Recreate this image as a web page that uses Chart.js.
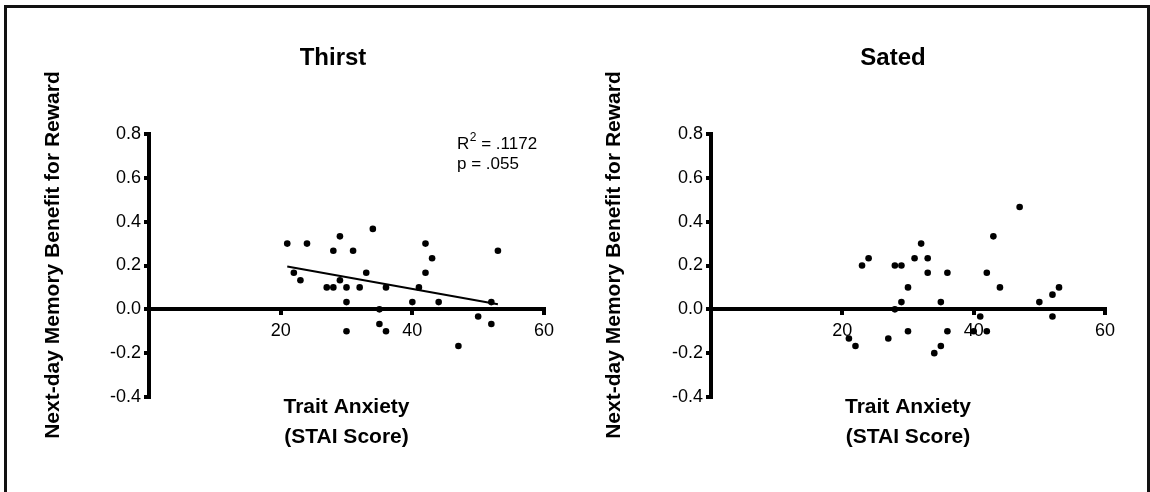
<!DOCTYPE html>
<html>
<head>
<meta charset="utf-8">
<script src="https://cdn.jsdelivr.net/npm/chart.js@4.4.1/dist/chart.umd.min.js"></script>
<style>
  html, body { margin: 0; padding: 0; background: #fff; width: 1150px; height: 492px; overflow: hidden; }
  #frame { position: absolute; left: 4px; top: 5px; width: 1146px; height: 600px; border: 3px solid #111; border-bottom: none; box-sizing: border-box; }
  #thirstChart { position: absolute; left: 0; top: 0; }
  #satedChart { position: absolute; left: 600px; top: 0; }
</style>
</head>
<body>
<div id="frame"></div>
<canvas id="thirstChart" width="666" height="492"></canvas>
<canvas id="satedChart" width="586" height="492"></canvas>
<script>
// axis ticks
var yTicks = [-0.4, -0.2, 0, 0.2, 0.4, 0.6, 0.8];
var yTickLabels = ['-0.4', '-0.2', '0.0', '0.2', '0.4', '0.6', '0.8'];
var xTicks = [0, 20, 40, 60];
var xTickLabels = ['', '20', '40', '60'];

// Thirst: STAI score vs memory benefit
var thirstX = [21, 24, 29, 34, 28, 31, 42, 43, 53, 22, 23, 27, 28, 29, 30, 32, 33, 36, 30, 42, 41, 40, 44, 52, 35, 35, 36, 30, 50, 52, 47];
var thirstY = [0.30, 0.30, 0.333, 0.367, 0.267, 0.267, 0.30, 0.233, 0.267, 0.167, 0.133, 0.10, 0.10, 0.133, 0.10, 0.10, 0.167, 0.10, 0.033, 0.167, 0.10, 0.033, 0.033, 0.033, 0.0, -0.067, -0.10, -0.10, -0.033, -0.067, -0.167];

// regression line for thirst (end points)
var fitX = [21, 53];
var fitY = [0.195, 0.023];
var statR2 = '.1172';
var statP = '.055';

// Sated
var satedX = [47, 43, 32, 23, 24, 28, 29, 31, 33, 33, 36, 42, 30, 44, 53, 52, 50, 29, 35, 28, 41, 52, 30, 36, 42, 40, 21, 22, 27, 35, 34];
var satedY = [0.467, 0.333, 0.30, 0.20, 0.233, 0.20, 0.20, 0.233, 0.233, 0.167, 0.167, 0.167, 0.10, 0.10, 0.10, 0.067, 0.033, 0.033, 0.033, 0.0, -0.033, -0.033, -0.10, -0.10, -0.10, -0.10, -0.133, -0.167, -0.133, -0.167, -0.20];

var yTitle = 'Next-day Memory Benefit for Reward';
var xTitle = ['Trait Anxiety', '(STAI Score)'];

var FONT = "'Liberation Sans', Arial, Helvetica, sans-serif";
Chart.defaults.font.family = FONT;
Chart.defaults.color = '#000';

// panel title, y title and stats text
var panelText = {
    id: 'panelText',
    afterDraw: function(chart, args, opts) {
        var ctx = chart.ctx;
        ctx.save();
        ctx.fillStyle = '#000';
        ctx.textBaseline = 'middle';
        ctx.textAlign = 'center';
        ctx.font = 'bold 24px ' + FONT;
        ctx.fillText(opts.title, opts.titleX, 58);

        // rotated y axis title
        ctx.save();
        ctx.translate(opts.yTitleX, 255);
        ctx.rotate(-Math.PI / 2);
        ctx.font = 'bold 21px ' + FONT;
        ctx.fillText(yTitle, 0, 0);
        ctx.restore();

        if (opts.stats) {
            var x = opts.statsX, y = opts.statsY;
            ctx.textAlign = 'left';
            ctx.font = '17px ' + FONT;
            ctx.fillText('R', x, y);
            var w = ctx.measureText('R').width;
            ctx.font = '12px ' + FONT;
            ctx.fillText('2', x + w + 0.5, y - 6);
            var w2 = ctx.measureText('2').width;
            ctx.font = '17px ' + FONT;
            ctx.fillText(' = ' + statR2, x + w + w2 + 0.5, y);
            ctx.fillText('p = ' + statP, x, y + 20);
        }
        ctx.restore();
    }
};

function makePanel(canvasId, xs, ys, opts) {
    var points = xs.map(function(x, i) { return {x: x, y: ys[i]}; });
    var datasets = [{
        type: 'scatter',
        data: points,
        backgroundColor: '#000',
        borderColor: '#000',
        borderWidth: 0,
        pointRadius: 3.3,
        pointHoverRadius: 3.3,
        clip: false
    }];
    if (opts.fit) {
        datasets.push({
            type: 'line',
            data: fitX.map(function(x, i) { return {x: x, y: fitY[i]}; }),
            borderColor: '#000',
            borderWidth: 2,
            pointRadius: 0,
            fill: false,
            clip: false
        });
    }
    return new Chart(document.getElementById(canvasId), {
        type: 'scatter',
        data: {datasets: datasets},
        options: {
            responsive: false,
            animation: false,
            events: [],
            layout: {padding: {left: opts.padLeft, top: 134, right: opts.padRight, bottom: 95}},
            plugins: {
                legend: {display: false},
                tooltip: {enabled: false},
                panelText: opts.text
            },
            scales: {
                x: {
                    type: 'linear',
                    position: {y: 0},
                    min: 0,
                    max: 60,
                    afterBuildTicks: function(s) { s.ticks = xTicks.map(function(v) { return {value: v}; }); },
                    // title sits this far below the zero line
                    afterFit: function(s) { s.height = 143; },
                    ticks: {
                        callback: function(v, i) { return xTickLabels[i]; },
                        font: {size: 18},
                        color: '#000',
                        padding: 7,
                        maxRotation: 0,
                        autoSkip: false
                    },
                    grid: {drawOnChartArea: false, drawTicks: true, tickLength: 4, lineWidth: 4, color: '#000'},
                    border: {display: true, width: 4, color: '#000'},
                    title: {
                        display: true,
                        text: xTitle,
                        font: {size: 21, weight: 'bold', lineHeight: 1.42},
                        color: '#000',
                        padding: {top: 10, bottom: 0}
                    }
                },
                y: {
                    type: 'linear',
                    position: 'left',
                    min: -0.4,
                    max: 0.8,
                    afterBuildTicks: function(s) { s.ticks = yTicks.map(function(v) { return {value: v}; }); },
                    afterFit: function(s) { s.width = opts.yWidth; },
                    ticks: {
                        callback: function(v, i) { return yTickLabels[i]; },
                        font: {size: 18},
                        color: '#000',
                        padding: 3
                    },
                    grid: {drawOnChartArea: false, drawTicks: true, tickLength: 5, lineWidth: 4, color: '#000'},
                    border: {display: true, width: 4, color: '#000'}
                }
            }
        },
        plugins: [panelText]
    });
}

makePanel('thirstChart', thirstX, thirstY, {
    fit: true, padLeft: 41, yWidth: 108, padRight: 122,
    text: {title: 'Thirst', titleX: 333, yTitleX: 53, stats: true, statsX: 457, statsY: 144}
});
makePanel('satedChart', satedX, satedY, {
    fit: false, padLeft: 1, yWidth: 110, padRight: 81,
    text: {title: 'Sated', titleX: 293, yTitleX: 14, stats: false}
});
</script>
</body>
</html>
